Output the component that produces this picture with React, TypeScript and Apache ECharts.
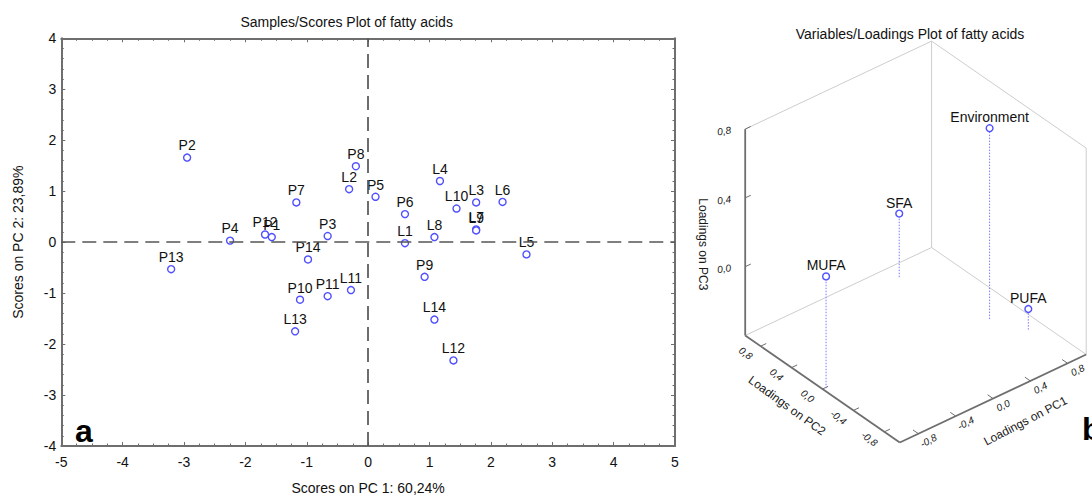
import React, { useEffect, useRef } from "react";
import * as echarts from "echarts";

// ---------- Panel a: sample scores ----------
const SAMPLE_NAMES = [
  "P1", "P2", "P3", "P4", "P5", "P6", "P7", "P8", "P9", "P10", "P11", "P12", "P13", "P14",
  "L1", "L2", "L3", "L4", "L5", "L6", "L7", "L8", "L9", "L10", "L11", "L12", "L13", "L14",
];
const SCORE_PC1 = [
  -1.57, -2.95, -0.66, -2.25, 0.12, 0.6, -1.17, -0.2, 0.92, -1.11, -0.66, -1.68, -3.21, -0.98,
  0.6, -0.31, 1.76, 1.17, 2.58, 2.19, 1.76, 1.08, 1.76, 1.44, -0.28, 1.39, -1.19, 1.08,
];
const SCORE_PC2 = [
  0.1, 1.66, 0.12, 0.03, 0.89, 0.55, 0.78, 1.49, -0.68, -1.13, -1.06, 0.15, -0.53, -0.34,
  -0.02, 1.04, 0.78, 1.2, -0.24, 0.79, 0.25, 0.1, 0.23, 0.66, -0.94, -2.32, -1.75, -1.52,
];
const X_RANGE = [-5, 5];
const Y_RANGE = [-4, 4];

// ---------- Panel b: variable loadings (3D) ----------
const LOAD_NAMES = ["Environment", "SFA", "MUFA", "PUFA"];
const LOAD_PC1 = [0.71, 0.52, -0.97, 0.86];
const LOAD_PC2 = [-0.1, 0.84, -0.01, -0.42];
const LOAD_PC3 = [0.71, -0.03, 0.25, -0.28];
const LOAD_TICKS = [-0.8, -0.4, 0, 0.4, 0.8];
const PC3_TICKS = [0, 0.4, 0.8];
const BOX = { x: [-1, 1], y: [-1, 1], z: [-0.4, 0.8] };

const FONT = "'Liberation Sans', Arial, Helvetica, sans-serif";
const BLUE = "#4f4fff";
const AXIS_GRAY = "#6e6e6e";

// oblique view of the 3D box on a hidden screen-plane grid (1 unit = 1 px)
const VIEW = { cx: 915.7, cy: 345, e1x: 93.2, e1y: -44, e2x: -77.3, e2y: -53.5, h: 172 };

function project(api: any, p1: number, p2: number, p3: number): number[] {
  const u = VIEW.cx + p1 * VIEW.e1x + p2 * VIEW.e2x;
  const v = VIEW.cy + p1 * VIEW.e1y + p2 * VIEW.e2y - (p3 - BOX.z[0]) * VIEW.h;
  return api.coord([u, v]);
}

const fmt = (t: number) => t.toFixed(1).replace(".", ",");

function renderFrame(_params: any, api: any) {
  const P = (a: number, b: number, c: number) => project(api, a, b, c);
  const [x0, x1] = BOX.x;
  const [y0, y1] = BOX.y;
  const [z0, z1] = BOX.z;
  const seg = (p: number[], q: number[], style: any) => ({
    type: "line",
    shape: { x1: p[0], y1: p[1], x2: q[0], y2: q[1] },
    style,
  });
  const light = { stroke: "#cdcdcd", lineWidth: 1 };
  const dark = { stroke: AXIS_GRAY, lineWidth: 1.8 };
  const tick = { stroke: AXIS_GRAY, lineWidth: 1 };
  const Lb = P(x0, y1, z0), Lt = P(x0, y1, z1);
  const Bb = P(x1, y1, z0), Bt = P(x1, y1, z1);
  const Rb = P(x1, y0, z0), Rt = P(x1, y0, z1);
  const Fb = P(x0, y0, z0);
  const children: any[] = [
    seg(Lt, Bt, light),
    seg(Bt, Rt, light),
    seg(Bb, Bt, light),
    seg(Lb, Bb, light),
    seg(Bb, Rb, light),
    seg(Rb, Rt, light),
    seg(Lb, Lt, dark),
    seg(Lb, Fb, dark),
    seg(Fb, Rb, dark),
  ];
  const txt = (p: number[], text: string, rotation: number, size: number, italic: boolean) => ({
    type: "text",
    x: p[0],
    y: p[1],
    rotation,
    style: {
      text,
      fill: "#1a1a1a",
      fontSize: size,
      fontFamily: FONT,
      fontStyle: italic ? "italic" : "normal",
      align: "center",
      verticalAlign: "middle",
    },
  });
  LOAD_TICKS.forEach((t) => {
    // PC2 axis (left-front floor edge)
    children.push(seg(P(x0, t, z0), P(x0 + 0.06, t, z0), tick));
    children.push(txt(P(x0 - 0.16, t, z0), fmt(t), -0.66, 10, true));
    // PC1 axis (right-front floor edge)
    children.push(seg(P(t, y0, z0), P(t, y0 + 0.07, z0), tick));
    children.push(txt(P(t, y0 - 0.13, z0), fmt(t), 0.48, 10, true));
  });
  PC3_TICKS.forEach((t) => {
    children.push(seg(P(x0, y1, t), P(x0 + 0.06, y1, t), tick));
    const p = P(x0, y1, t);
    children.push(txt([p[0] - 21, p[1] + 2], fmt(t), 0.15, 10, true));
  });
  children.push(txt(P(x0 - 0.38, 0, z0), "Loadings on PC2", -0.63, 12, false));
  children.push(txt(P(0, y0 - 0.42, z0), "Loadings on PC1", 0.48, 12, false));
  const pz = P(x0, y1, 0.13);
  children.push(txt([pz[0] - 42, pz[1]], "Loadings on PC3", -Math.PI / 2, 12, false));
  return { type: "group", children };
}

function renderLoadings(params: any, api: any) {
  const p1 = api.value(0);
  const p2 = api.value(1);
  const p3 = api.value(2);
  const base = project(api, p1, p2, BOX.z[0]);
  const top = project(api, p1, p2, p3);
  return {
    type: "group",
    children: [
      {
        type: "line",
        shape: { x1: base[0], y1: base[1], x2: top[0], y2: top[1] },
        style: { stroke: "#7a7aff", lineWidth: 1, lineDash: [1.5, 1.5] },
      },
      {
        type: "circle",
        shape: { cx: top[0], cy: top[1], r: 3.4 },
        style: { fill: "#ffffff", stroke: BLUE, lineWidth: 1.4 },
      },
      {
        type: "text",
        x: top[0],
        y: top[1] - 11,
        style: {
          text: LOAD_NAMES[params.dataIndex],
          fill: "#111111",
          fontSize: 14,
          fontFamily: FONT,
          align: "center",
          verticalAlign: "middle",
        },
      },
    ],
  };
}

export default function App() {
  const ref = useRef<HTMLDivElement>(null);

  useEffect(() => {
    if (!ref.current) return;
    const chart = echarts.init(ref.current, null, { renderer: "svg" });

    const scoreData = SAMPLE_NAMES.map((n, i) => ({ name: n, value: [SCORE_PC1[i], SCORE_PC2[i]] }));
    const loadData = LOAD_NAMES.map((n, i) => ({ name: n, value: [LOAD_PC1[i], LOAD_PC2[i], LOAD_PC3[i]] }));

    const axisLine = { show: true, onZero: false, lineStyle: { color: AXIS_GRAY, width: 2 } };
    const axisTick = { show: true, inside: true, length: 4, lineStyle: { color: AXIS_GRAY, width: 1 } };
    const labelStyle = { color: "#111", fontSize: 14, fontFamily: FONT };

    const option: any = {
      animation: false,
      backgroundColor: "#ffffff",
      textStyle: { fontFamily: FONT },
      grid: [
        { left: 61.3, top: 38.3, width: 613.7, height: 417 },
        { left: 690, top: 0, width: 402, height: 500 },
      ],
      xAxis: [
        {
          gridIndex: 0,
          type: "value",
          min: X_RANGE[0],
          max: X_RANGE[1],
          interval: 1,
          position: "bottom",
          axisLine,
          axisTick,
          minorTick: { show: true, splitNumber: 4, length: 2.5, lineStyle: { color: AXIS_GRAY } },
          axisLabel: { ...labelStyle, margin: 9 },
          splitLine: { show: false },
          name: "Scores on PC 1: 60,24%",
          nameLocation: "middle",
          nameGap: 35,
          nameTextStyle: { color: "#111", fontSize: 14, fontFamily: FONT },
        },
        {
          gridIndex: 0,
          type: "value",
          min: X_RANGE[0],
          max: X_RANGE[1],
          interval: 1,
          position: "top",
          axisLine,
          axisTick,
          minorTick: { show: true, splitNumber: 4, length: 2.5, lineStyle: { color: AXIS_GRAY } },
          axisLabel: { show: false },
          splitLine: { show: false },
        },
        { gridIndex: 1, type: "value", min: 690, max: 1092, show: false },
      ],
      yAxis: [
        {
          gridIndex: 0,
          type: "value",
          min: Y_RANGE[0],
          max: Y_RANGE[1],
          interval: 1,
          position: "left",
          axisLine,
          axisTick,
          minorTick: { show: true, splitNumber: 5, length: 2.5, lineStyle: { color: AXIS_GRAY } },
          axisLabel: { ...labelStyle, margin: 5 },
          splitLine: { show: false },
          name: "Scores on PC 2: 23,89%",
          nameLocation: "middle",
          nameGap: 36,
          nameTextStyle: { color: "#111", fontSize: 14, fontFamily: FONT },
        },
        {
          gridIndex: 0,
          type: "value",
          min: Y_RANGE[0],
          max: Y_RANGE[1],
          interval: 1,
          position: "right",
          axisLine,
          axisTick,
          minorTick: { show: true, splitNumber: 5, length: 2.5, lineStyle: { color: AXIS_GRAY } },
          axisLabel: { show: false },
          splitLine: { show: false },
        },
        { gridIndex: 1, type: "value", min: 0, max: 500, inverse: true, show: false },
      ],
      series: [
        {
          type: "scatter",
          xAxisIndex: 0,
          yAxisIndex: 0,
          data: scoreData,
          symbol: "circle",
          symbolSize: 7,
          itemStyle: { color: "#ffffff", borderColor: BLUE, borderWidth: 1.4, opacity: 1 },
          label: {
            show: true,
            position: "top",
            distance: 1,
            formatter: "{b}",
            color: "#111",
            fontSize: 14,
            fontFamily: FONT,
          },
          markLine: {
            silent: true,
            symbol: ["none", "none"],
            label: { show: false },
            lineStyle: { color: "#555", width: 1.7, type: [14, 7] },
            data: [{ xAxis: 0 }, { yAxis: 0 }],
          },
          z: 3,
        },
        {
          type: "custom",
          xAxisIndex: 2,
          yAxisIndex: 2,
          data: [[800, 250]],
          renderItem: renderFrame,
          silent: true,
          z: 1,
        },
        {
          type: "custom",
          xAxisIndex: 2,
          yAxisIndex: 2,
          data: loadData,
          renderItem: renderLoadings,
          z: 2,
        },
      ],
      graphic: [
        {
          type: "text",
          x: 346.7,
          y: 21.5,
          style: {
            text: "Samples/Scores Plot of fatty acids",
            fill: "#111",
            fontSize: 14,
            fontFamily: FONT,
            align: "center",
            verticalAlign: "middle",
          },
        },
        {
          type: "text",
          x: 910,
          y: 34,
          style: {
            text: "Variables/Loadings Plot of fatty acids",
            fill: "#111",
            fontSize: 14,
            fontFamily: FONT,
            align: "center",
            verticalAlign: "middle",
          },
        },
        {
          type: "text",
          x: 75,
          y: 431,
          style: {
            text: "a",
            fill: "#000",
            fontSize: 32,
            fontWeight: "bold",
            fontFamily: FONT,
            align: "left",
            verticalAlign: "middle",
          },
        },
        {
          type: "text",
          x: 1082,
          y: 429,
          style: {
            text: "b",
            fill: "#000",
            fontSize: 32,
            fontWeight: "bold",
            fontFamily: FONT,
            align: "left",
            verticalAlign: "middle",
          },
        },
      ],
    };

    chart.setOption(option);
    return () => chart.dispose();
  }, []);

  return (
    <div
      ref={ref}
      style={{ position: "fixed", left: 0, top: 0, width: 1092, height: 500, background: "#fff" }}
    />
  );
}
